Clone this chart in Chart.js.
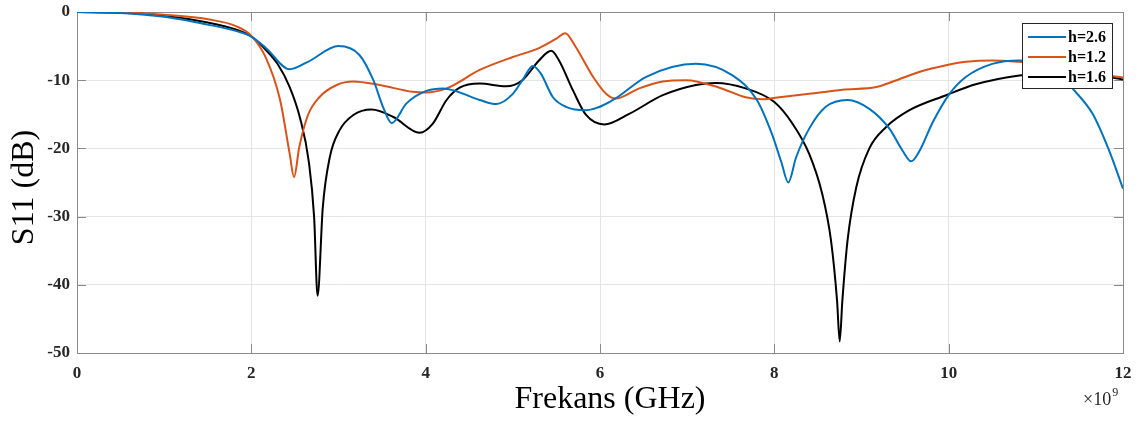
<!DOCTYPE html>
<html lang="tr">

<head>
  <meta charset="UTF-8">
  <title>S11 - Frekans</title>
  <script src="https://cdn.jsdelivr.net/npm/chart.js"></script>
  <style>
    body {
      margin: 0;
      background: #fff;
    }

    #wrap {
      width: 1140px;
      height: 421px;
    }
  </style>
</head>

<body>
  <div id="wrap">
    <canvas id="s11Chart" width="1140" height="421"></canvas>
  </div>

  <script>
    // Frekans (GHz) ve S11 (dB) degerleri, her kalinlik icin ayri
    const freqH26 = [0, 0.5, 1.0, 1.5, 1.83, 2.0, 2.17, 2.44, 2.65, 3.0, 3.24, 3.4, 3.51, 3.61, 3.78, 4.0, 4.2, 4.62, 4.81, 5.0, 5.11, 5.23, 5.32, 5.46, 5.61, 5.84, 6.15, 6.53, 7.1, 7.52, 7.8, 7.97, 8.08, 8.16, 8.25, 8.4, 8.59, 8.84, 9.09, 9.32, 9.47, 9.57, 9.66, 9.82, 10.01, 10.2, 10.5, 10.81, 11.05, 11.25, 11.42, 11.65, 11.84, 12];
    const s11H26 = [0, -0.15, -0.7, -1.85, -2.8, -3.6, -5.3, -8.4, -7.3, -5.0, -6.3, -10, -13.9, -16.3, -13.4, -11.6, -11.2, -12.9, -13.5, -12, -10, -7.9, -9.0, -12.5, -13.9, -14.4, -12.9, -9.5, -7.6, -9.3, -12.9, -17.8, -22, -25, -21.3, -17.1, -13.9, -12.9, -14.2, -17.1, -20.3, -21.9, -20.5, -16.1, -12, -9.5, -7.6, -7.1, -7.3, -8.8, -11.2, -14.9, -20.3, -25.9];

    const freqH12 = [0, 0.5, 1.0, 1.52, 1.83, 2.0, 2.17, 2.33, 2.44, 2.49, 2.55, 2.65, 2.78, 2.98, 3.17, 3.47, 3.85, 4.0, 4.24, 4.62, 5.0, 5.3, 5.5, 5.6, 5.72, 5.92, 6.07, 6.18, 6.45, 6.72, 6.99, 7.37, 7.67, 7.87, 8.06, 8.4, 8.78, 9.17, 9.36, 9.66, 9.97, 10.2, 10.5, 10.81, 11.2, 11.6, 11.87, 12];
    const s11H12 = [0, -0.05, -0.4, -1.1, -2.1, -3.5, -6.8, -12.9, -20.8, -24.2, -19.8, -15.1, -12.5, -10.7, -10.2, -10.7, -11.7, -11.8, -11.2, -8.5, -6.6, -5.3, -3.9, -3.1, -5.1, -9.5, -12, -12.7, -11.2, -10.2, -10, -11.1, -12.5, -12.8, -12.5, -12, -11.4, -11, -10.2, -8.8, -7.8, -7.3, -7.1, -7.3, -7.7, -8.6, -9.4, -9.6];

    const freqH16 = [0, 0.5, 1.0, 1.5, 1.83, 2.0, 2.17, 2.3, 2.44, 2.56, 2.66, 2.72, 2.76, 2.82, 2.9, 3.01, 3.17, 3.38, 3.63, 3.93, 4.08, 4.24, 4.39, 4.62, 4.92, 5.11, 5.3, 5.44, 5.53, 5.69, 5.84, 6.05, 6.34, 6.72, 7.1, 7.33, 7.67, 8.0, 8.21, 8.4, 8.55, 8.65, 8.72, 8.75, 8.78, 8.84, 8.94, 9.09, 9.28, 9.55, 9.97, 10.31, 10.81, 11.3, 11.87, 12];
    const s11H16 = [0, -0.1, -0.55, -1.55, -2.6, -3.6, -5.6, -7.6, -11, -15.6, -22, -30, -41.6, -28.6, -21.3, -17.4, -15.1, -14.3, -15.4, -17.7, -16.4, -12.9, -11.1, -10.5, -10.9, -10, -7.1, -5.7, -7.1, -11.5, -15.1, -16.5, -14.9, -12.2, -10.7, -10.4, -11.2, -13.2, -16.4, -20.8, -26.7, -33.5, -42.4, -48.3, -42.4, -33.5, -25.7, -20.0, -16.9, -14.4, -12.2, -10.6, -9.3, -8.9, -9.6, -9.9];

    const seriesNames = ['h=2.6', 'h=1.2', 'h=1.6'];
    const seriesColors = ['#0072BD', '#D95319', '#000000'];
    const xTicks = [0, 2, 4, 6, 8, 10, 12];
    const yTicks = [0, -10, -20, -30, -40, -50];
    const xTitle = 'Frekans (GHz)';
    const yTitle = 'S11 (dB)';

    const SERIF = "'Liberation Serif', 'Times New Roman', serif";

    function toPoints(xs, ys) {
      return xs.map((x, i) => ({ x: x, y: ys[i] }));
    }

    // cerceve, iceri bakan tikler ve eksen basliklari
    const frameBox = {
      id: 'frameBox',
      beforeDatasetsDraw(chart) {
        const { ctx, chartArea: a, scales } = chart;
        ctx.save();
        ctx.strokeStyle = '#8a8a8a';
        ctx.lineWidth = 1;
        ctx.beginPath();
        xTicks.forEach(v => {
          const px = Math.round(scales.x.getPixelForValue(v)) + 0.5;
          ctx.moveTo(px, a.bottom); ctx.lineTo(px, a.bottom - 9);
          ctx.moveTo(px, a.top); ctx.lineTo(px, a.top + 9);
        });
        yTicks.forEach(v => {
          const py = Math.round(scales.y.getPixelForValue(v)) + 0.5;
          ctx.moveTo(a.left, py); ctx.lineTo(a.left + 9, py);
          ctx.moveTo(a.right, py); ctx.lineTo(a.right - 9, py);
        });
        ctx.stroke();
        ctx.strokeRect(Math.round(a.left) + 0.5, Math.round(a.top) + 0.5,
          Math.round(a.right - a.left), Math.round(a.bottom - a.top));
        ctx.restore();
      },
      afterDraw(chart) {
        const { ctx, chartArea: a } = chart;
        ctx.save();
        ctx.fillStyle = '#000000';
        ctx.font = '32px ' + SERIF;
        ctx.textAlign = 'center';
        ctx.textBaseline = 'alphabetic';
        ctx.fillText(xTitle, (a.left + a.right) / 2 + 10, 408);

        ctx.save();
        ctx.translate(25, (a.top + a.bottom) / 2 + 5);
        ctx.rotate(-Math.PI / 2);
        ctx.textBaseline = 'middle';
        ctx.fillText(yTitle, 0, 0);
        ctx.restore();

        // x ekseni carpani
        ctx.fillStyle = '#262626';
        ctx.textAlign = 'left';
        ctx.font = '18px ' + SERIF;
        const txt = '\u00d710';
        const w = ctx.measureText(txt).width;
        const x0 = a.right - 40;
        ctx.fillText(txt, x0, 405);
        ctx.font = '12px ' + SERIF;
        ctx.fillText('9', x0 + w + 1, 396);
        ctx.restore();
      }
    };

    // kutulu lejant, cizim alaninin sag ust kosesinde
    const boxLegend = {
      id: 'boxLegend',
      afterDatasetsDraw(chart) {
        const { ctx, chartArea: a } = chart;
        const bx = a.right - 101, by = a.top + 11, bw = 90, bh = 65;
        ctx.save();
        ctx.fillStyle = '#ffffff';
        ctx.fillRect(bx, by, bw, bh);
        ctx.strokeStyle = '#262626';
        ctx.lineWidth = 1;
        ctx.strokeRect(bx + 0.5, by + 0.5, bw, bh);
        ctx.font = 'bold 16px ' + SERIF;
        ctx.textBaseline = 'middle';
        seriesNames.forEach((name, i) => {
          const y = by + 14 + i * 20;
          ctx.strokeStyle = seriesColors[i];
          ctx.lineWidth = 2;
          ctx.beginPath();
          ctx.moveTo(bx + 6, y);
          ctx.lineTo(bx + 44, y);
          ctx.stroke();
          ctx.fillStyle = '#000000';
          ctx.fillText(name, bx + 46, y + 1);
        });
        ctx.restore();
      }
    };

    const datasets = [
      toPoints(freqH26, s11H26),
      toPoints(freqH12, s11H12),
      toPoints(freqH16, s11H16)
    ].map((pts, i) => ({
      label: seriesNames[i],
      data: pts,
      borderColor: seriesColors[i],
      backgroundColor: seriesColors[i],
      borderWidth: 2,
      pointRadius: 0,
      fill: false,
      cubicInterpolationMode: 'monotone'
    }));

    const ctx = document.getElementById('s11Chart').getContext('2d');
    const s11Chart = new Chart(ctx, {
      type: 'line',
      data: { datasets: datasets },
      options: {
        responsive: false,
        animation: false,
        events: [],
        layout: {
          padding: { left: 0, top: 12, right: 17, bottom: 0 }
        },
        plugins: {
          legend: { display: false },
          tooltip: { enabled: false }
        },
        scales: {
          x: {
            type: 'linear',
            min: 0,
            max: 12,
            afterBuildTicks: (scale) => { scale.ticks = xTicks.map(v => ({ value: v })); },
            afterFit: (scale) => {
              scale.height = 68;
              scale.paddingLeft = 0;
              scale.paddingRight = 0;
            },
            grid: { color: '#e4e4e4', drawTicks: false },
            border: { display: false },
            ticks: {
              padding: 10,
              color: '#262626',
              font: { family: SERIF, size: 17, weight: 'bold' }
            }
          },
          y: {
            min: -50,
            max: 0,
            afterBuildTicks: (scale) => { scale.ticks = yTicks.map(v => ({ value: v })); },
            afterFit: (scale) => {
              scale.width = 77;
              scale.paddingTop = 0;
              scale.paddingBottom = 0;
            },
            grid: { color: '#e4e4e4', drawTicks: false },
            border: { display: false },
            ticks: {
              padding: 7,
              color: '#262626',
              font: { family: SERIF, size: 17, weight: 'bold' }
            }
          }
        }
      },
      plugins: [frameBox, boxLegend]
    });
  </script>
</body>

</html>
